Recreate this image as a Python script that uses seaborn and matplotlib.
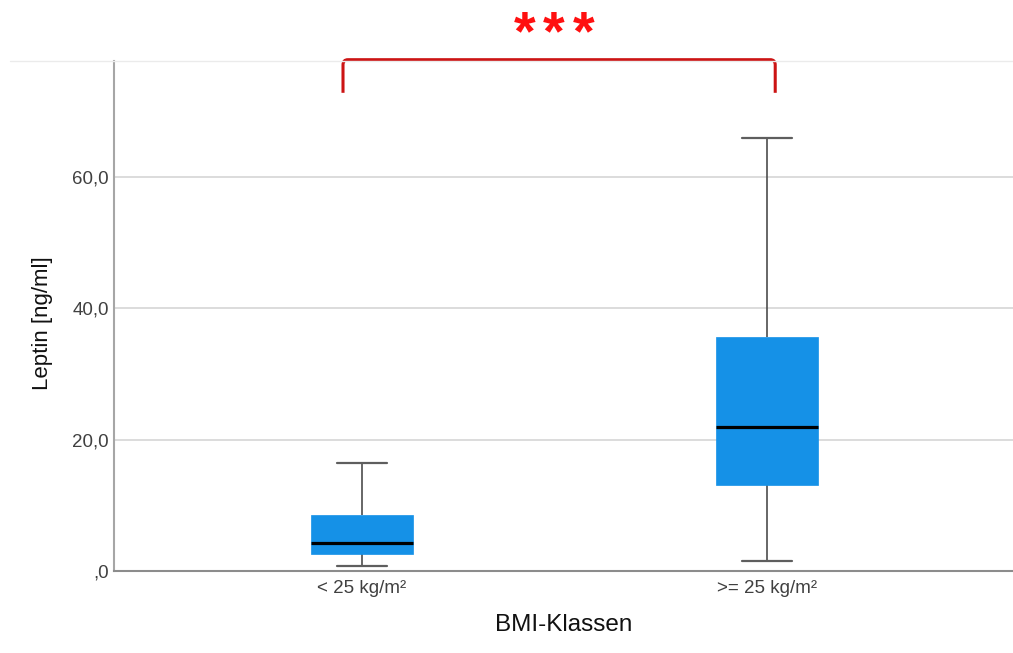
import numpy as np
import pandas as pd
import matplotlib
matplotlib.use("Agg")
import matplotlib.pyplot as plt
from matplotlib.path import Path
from matplotlib.patches import PathPatch
from matplotlib.lines import Line2D
import seaborn as sns

# Leptin five-number summaries per BMI class (min, Q1, median, Q3, max)
bmi_classes = ["< 25 kg/m²", ">= 25 kg/m²"]
leptin_low_bmi = [0.76, 2.50, 4.22, 8.54, 16.47]
leptin_high_bmi = [1.53, 13.07, 21.96, 35.60, 65.95]

y_ticks = [0, 20, 40, 60]
y_tick_labels = [",0", "20,0", "40,0", "60,0"]
significance = "***"

df = pd.DataFrame({
    "BMI-Klassen": [bmi_classes[0]] * len(leptin_low_bmi) + [bmi_classes[1]] * len(leptin_high_bmi),
    "Leptin": leptin_low_bmi + leptin_high_bmi,
})

sns.set_style("white")
plt.rcParams["font.family"] = ["Liberation Sans", "DejaVu Sans"]

BOX = "#1591E7"
W, H = 1013, 653
fig = plt.figure(figsize=(W / 100, H / 100), dpi=100)
ax = fig.add_axes([114.3 / W, 1 - 570.7 / H, 1 - 114.3 / W, (570.7 - 61) / H])

sns.boxplot(
    data=df, x="BMI-Klassen", y="Leptin", order=bmi_classes,
    width=0.25, whis=(0, 100), showfliers=False, saturation=1,
    color=BOX, linewidth=1.2, ax=ax,
    boxprops=dict(facecolor=BOX, edgecolor=BOX, linewidth=0.5, zorder=3),
    medianprops=dict(color="black", linewidth=2.3, zorder=4),
    whiskerprops=dict(color="#4d4d4d", linewidth=1.2),
    capprops=dict(color="#5e5e5e", linewidth=1.6),
)

ax.set_xlim(-0.6116, 1.607)
ax.set_ylim(0, 77.7)
ax.set_yticks(y_ticks)
ax.set_yticklabels(y_tick_labels)
ax.yaxis.grid(True, color="#d9d9d9", linewidth=1.3, zorder=0)
ax.xaxis.grid(False)
ax.set_axisbelow(True)

for side in ("top", "right"):
    ax.spines[side].set_visible(False)
ax.spines["left"].set_color("#a6a6a6")
ax.spines["left"].set_linewidth(1.5)
ax.spines["bottom"].set_color("#8c8c8c")
ax.spines["bottom"].set_linewidth(1.5)

ax.tick_params(axis="both", length=0, labelsize=13.5, colors="#404040")
ax.tick_params(axis="x", pad=7)
ax.tick_params(axis="y", pad=4)

ax.set_xlabel("BMI-Klassen", fontsize=17.5, color="#111111")
ax.set_ylabel("Leptin [ng/ml]", fontsize=16, color="#111111")
ax.xaxis.set_label_coords(0.5, -0.085)
ax.yaxis.set_label_coords(-0.068, 0.486)

# faint frame line along the top of the plot area
fig.add_artist(Line2D([10 / W, 1], [1 - 61 / H] * 2, color="#ebebeb", linewidth=1))

# significance bracket between the two groups
x0, x1 = -0.047, 1.02
y_bot, y_top = 72.85, 77.9
rx, ry = 0.012, 0.8
verts = [
    (x0, y_bot), (x0, y_top - ry), (x0, y_top), (x0 + rx, y_top),
    (x1 - rx, y_top), (x1, y_top), (x1, y_top - ry), (x1, y_bot),
]
codes = [Path.MOVETO, Path.LINETO, Path.CURVE3, Path.CURVE3,
         Path.LINETO, Path.CURVE3, Path.CURVE3, Path.LINETO]
ax.add_patch(PathPatch(Path(verts, codes), fill=False, edgecolor="#cc1414",
                       linewidth=2.2, clip_on=False, zorder=5))

# significance stars, spaced apart above the bracket
star_gap_pt = 21.4
n = len(significance)
for i, ch in enumerate(significance):
    ax.annotate(ch, xy=(0.474, 79.5), xycoords="data",
                xytext=((i - (n - 1) / 2) * star_gap_pt, 0), textcoords="offset points",
                ha="center", va="baseline", fontsize=40, fontweight="bold",
                color="#ff1010", annotation_clip=False)

fig.savefig("out.png", dpi=100)
